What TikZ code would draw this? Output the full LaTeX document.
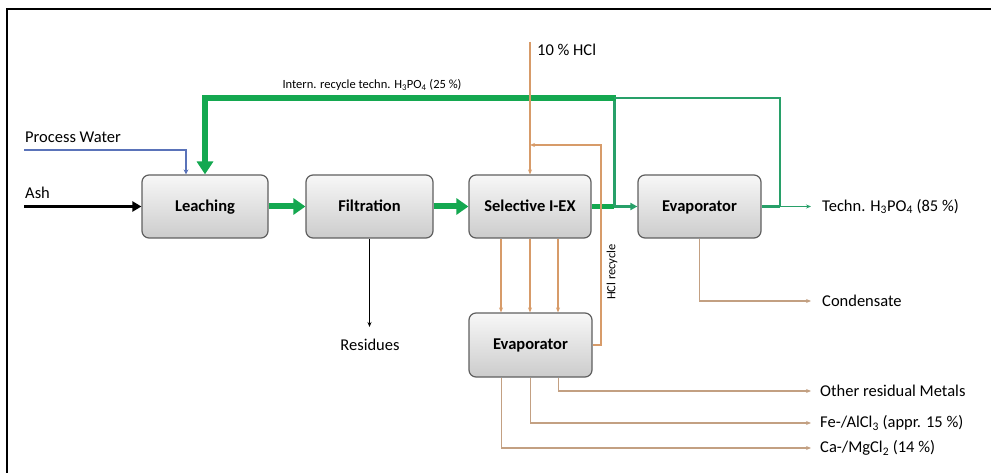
\documentclass[tikz,border=0pt]{standalone}
\usepackage{fontspec}
\setmainfont{Carlito}
\usetikzlibrary{arrows.meta}
\definecolor{grn}{RGB}{20,168,80}
\definecolor{grnb}{RGB}{40,160,105}
\definecolor{org}{RGB}{215,155,105}
\definecolor{tan}{RGB}{195,160,130}
\definecolor{blu}{RGB}{90,115,185}
\definecolor{bord}{RGB}{95,95,95}
\begin{document}
\begin{tikzpicture}[x=1pt,y=-1pt,
  proc/.style={draw=bord, line width=1.2pt, rounded corners=7pt,
    top color=gray!6, bottom color=gray!40, minimum height=63pt,
    text depth=1pt,
    font=\bfseries\fontsize{16.5}{19}\selectfont},
  lbl/.style={font=\fontsize{16.5}{19}\selectfont, inner sep=0pt},
  small/.style={font=\fontsize{12.5}{14}\selectfont, inner sep=0pt},
  big/.style={grn, line width=6pt, -{Triangle[length=12pt,width=16pt]}},
  oarr/.style={org, line width=1.5pt, -{Stealth[length=5pt,width=4pt]}},
  tarr/.style={tan, line width=1.3pt, -{Stealth[length=5pt,width=4pt]}}]
\useasboundingbox (0,0) rectangle (991,473);
\draw[line width=2pt] (7,473) -- (7,9) -- (991,9);

\node[proc, minimum width=126pt] (leach) at (205,206.5) {Leaching};
\node[proc, minimum width=127pt] (filt) at (369.5,206.5) {Filtration};
\node[proc, minimum width=122pt] (sel) at (530,206.5) {Selective I-EX};
\node[proc, minimum width=123pt] (evap) at (699.5,206.5) {Evaporator};
\node[proc, minimum width=123pt, minimum height=64pt] (evap2) at (530.5,345) {Evaporator};

% inputs
\coordinate (ashin) at (24,206.5);
\draw[line width=3pt, -{Triangle[length=9pt,width=10pt]}] (ashin) -- (leach.west);
\node[lbl, anchor=west] (ash) at (25,193) {Ash};
\coordinate (pw) at (24,150);
\draw[blu, line width=1.6pt, -{Stealth[length=5pt,width=5pt]}] (pw) -| ([xshift=-19pt]leach.north);
\node[lbl, anchor=west] (pwl) at (25,137) {Process Water};

% main green flow
\draw[big] (leach.east) -- (filt.west);
\draw[big] (filt.west -| filt.east) -- (sel.west);
\coordinate (j1) at (614,206.5);
\coordinate (j1t) at (614,98);
\coordinate (j2t) at (780,98);
\coordinate (j2) at (780,206.5);
\draw[grn, line width=5pt] (sel.east) -- (j1);
\draw[grnb, line width=2.6pt, -{Triangle[length=7pt,width=7pt]}] (j1) -- (evap.west);
\draw[grnb, line width=3pt] (j1) -- (j1t);
\draw[grn, line width=5.5pt, -{Triangle[length=13pt,width=16pt]}] ([xshift=1.5pt]j1t) -- (205,98) -- (leach.north);
\draw[grnb, line width=2.4pt] (j1t) -- (j2t) -- (j2);
\draw[grnb, line width=2.4pt] (evap.east) -- (j2);
\coordinate (techn) at (811,206.5);
\draw[grnb, line width=1.2pt, -{Stealth[length=5pt,width=4pt]}] (j2) -- (techn);
\node[lbl, anchor=west] (technl) at (822,206.5) {Techn. H\textsubscript{3}PO\textsubscript{4} (85 \%)};
\node[small] (recl) at (372,85) {Intern. recycle techn. H\textsubscript{3}PO\textsubscript{4} (25 \%)};

% HCl
\coordinate (hcl) at (530,42);
\draw[oarr] (hcl) -- (sel.north);
\node[lbl, anchor=west] (hcll) at (537,50) {10 \% HCl};
\coordinate (r1) at (601,345);
\coordinate (r2) at (601,145);
\coordinate (r3) at (530,145);
\draw[oarr] (evap2.east) -- (r1) -- (r2) -- (r3);
\node[small, rotate=90] (hclrec) at (612,272) {HCl recycle};

% sel -> evap2
\foreach \dx in {-29,0,28} {
  \draw[oarr] ([xshift=\dx pt]sel.south) -- ([xshift=\dx pt]sel.south |- evap2.north);
}

% outputs of evap2
\coordinate (om) at (811,391);
\coordinate (fe) at (811,423);
\coordinate (ca) at (811,448);
\draw[tarr] ([xshift=28pt]evap2.south) |- (om);
\draw[tarr] ([xshift=0pt]evap2.south) |- (fe);
\draw[tarr] ([xshift=-29pt]evap2.south) |- (ca);
\node[lbl, anchor=west] (oml) at (820,391) {Other residual Metals};
\node[lbl, anchor=west] (fel) at (820,423) {Fe-/AlCl\textsubscript{3} (appr. 15 \%)};
\node[lbl, anchor=west] (cal) at (820,448) {Ca-/MgCl\textsubscript{2} (14 \%)};

% condensate
\coordinate (cond) at (811,301);
\draw[tarr] (evap.south) |- (cond);
\node[lbl, anchor=west] (condl) at (822,301) {Condensate};

% residues
\coordinate (res) at (369.5,327);
\draw[line width=1.2pt, -{Stealth[length=5pt,width=4pt]}] (filt.south) -- (res);
\node[lbl] (resl) at (370,345) {Residues};
\end{tikzpicture}
\end{document}
